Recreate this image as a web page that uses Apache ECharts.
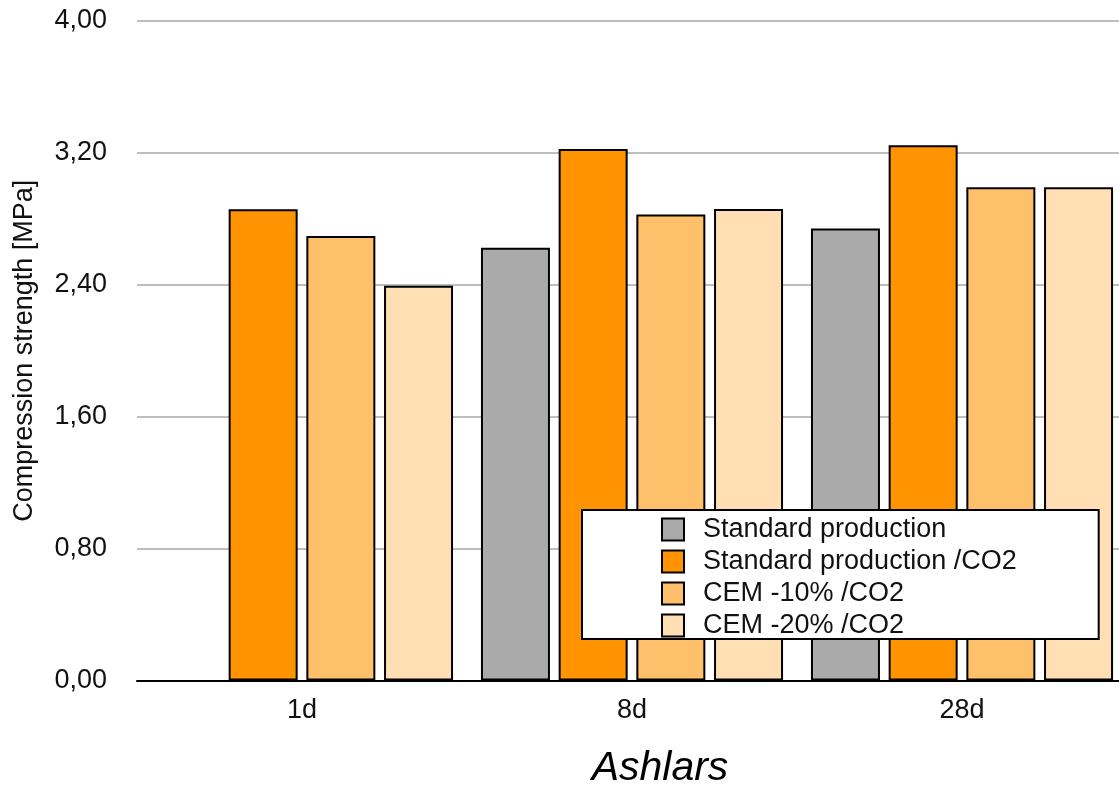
<!DOCTYPE html>
<html>
<head>
<meta charset="utf-8">
<script src="https://cdn.jsdelivr.net/npm/echarts@6/dist/echarts.min.js"></script>
<style>
html,body{margin:0;padding:0;background:#fff;}
#chart{width:1119px;height:785px;}
</style>
</head>
<body>
<div id="chart"></div>
<script>
const categories = ['1d', '8d', '28d'];
const seriesNames = ['Standard production', 'Standard production /CO2', 'CEM -10% /CO2', 'CEM -20% /CO2'];
const standardProduction = [null, 2.625, 2.742];
const standardProductionCO2 = [2.858, 3.223, 3.246];
const cem10CO2 = [2.696, 2.827, 2.991];
const cem20CO2 = [2.394, 2.859, 2.991];
const yTicks = [0, 0.8, 1.6, 2.4, 3.2, 4.0];
const colors = ['#aaaaaa', '#ff9400', '#ffc06b', '#ffdfb3'];

const allData = [standardProduction, standardProductionCO2, cem10CO2, cem20CO2];
const font = '"Liberation Sans", Arial, Helvetica, sans-serif';

const chart = echarts.init(document.getElementById('chart'), null, {renderer: 'canvas'});
chart.setOption({
  animation: false,
  backgroundColor: '#fff',
  textStyle: {fontFamily: font},
  grid: {left: 137, top: 21, width: 990, height: 659.5, containLabel: false, outerBoundsMode: 'none'},
  legend: {
    orient: 'vertical',
    left: 582,
    top: 510,
    padding: [6, 82, 0, 79],
    itemWidth: 22,
    itemHeight: 22,
    itemGap: 5,
    icon: 'rect',
    backgroundColor: '#fff',
    borderColor: '#000',
    borderWidth: 2,
    borderRadius: 0,
    textStyle: {fontSize: 27, color: '#111', fontFamily: font, padding: [0, 0, 0, 14]},
    data: seriesNames
  },
  xAxis: {
    type: 'category',
    data: categories,
    name: 'Ashlars',
    nameLocation: 'middle',
    nameGap: 68,
    nameTextStyle: {fontSize: 41, fontStyle: 'italic', color: '#000', fontFamily: font, padding: [0, 0, 0, 56]},
    axisLine: {show: true, lineStyle: {color: '#000', width: 2}},
    axisTick: {show: false},
    axisLabel: {fontSize: 27, color: '#111', margin: 17},
    splitLine: {show: false}
  },
  yAxis: {
    type: 'value',
    min: yTicks[0],
    max: yTicks[yTicks.length - 1],
    interval: 0.8,
    name: 'Compression strength [MPa]',
    nameLocation: 'middle',
    nameGap: 99,
    nameTextStyle: {fontSize: 27, color: '#111', fontFamily: font},
    axisLine: {show: false},
    axisTick: {show: false},
    axisLabel: {
      fontSize: 27, color: '#111', margin: 30,
      formatter: v => v.toFixed(2).replace('.', ',')
    },
    splitLine: {show: true, lineStyle: {color: '#a8a8a8', width: 1.5}}
  },
  series: seriesNames.map((name, i) => ({
    name: name,
    type: 'bar',
    data: allData[i],
    barWidth: 69,
    barGap: '12.6%',
    itemStyle: {color: colors[i], borderColor: '#000', borderWidth: 2},
    emphasis: {disabled: true}
  }))
});
</script>
</body>
</html>
